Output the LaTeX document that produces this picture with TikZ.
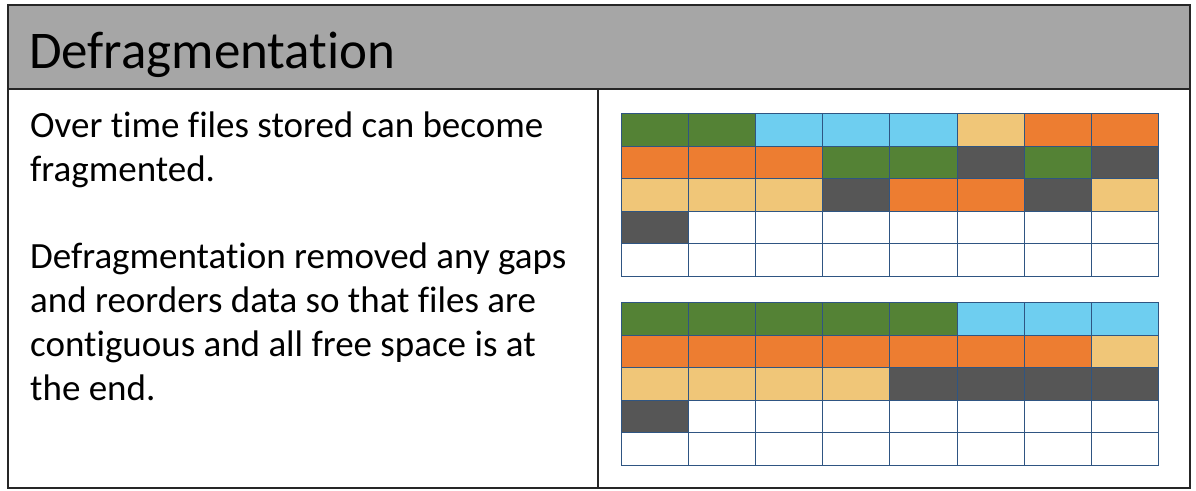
\documentclass[tikz,border=0pt]{standalone}
\usepackage{fontspec}
\setmainfont{Carlito}[Ligatures=NoCommon]
\definecolor{headgray}{RGB}{166,166,166}
\definecolor{gridblue}{RGB}{47,85,130}
\definecolor{cG}{RGB}{84,130,53}
\definecolor{cB}{RGB}{110,206,240}
\definecolor{cY}{RGB}{240,198,120}
\definecolor{cO}{RGB}{237,125,49}
\definecolor{cD}{RGB}{86,86,86}
\definecolor{cW}{RGB}{255,255,255}
\tikzset{
  frame/.style={draw=black!85, line width=2pt},
  cell/.style={draw=gridblue, line width=1pt, anchor=north west, inner sep=0pt,
    minimum width=67.1pt, minimum height=32.5pt},
  bodytext/.style={anchor=base west, inner sep=0pt, font=\fontsize{37}{44}\selectfont},
}

\begin{document}
\begin{tikzpicture}[x=1pt,y=-1pt]
  \useasboundingbox (0,0) rectangle (1196,490);
  \fill[white] (0,0) rectangle (1196,490);
  \fill[headgray] (8,5) rectangle (1190,89);
  \draw[frame] (8,5) rectangle (1190,488);
  \draw[frame] (8,89) -- (1190,89);
  \draw[frame] (598,89) -- (598,488);
  \node[anchor=base west, inner sep=0pt, font=\fontsize{53}{64}\selectfont] (title) at (29,68) {Defragmentation};
  % left column
  \node[bodytext] (l1) at (30,137) {Over time files stored can become};
  \node[bodytext] (l2) at (30,181) {fragmented.};
  \node[bodytext] (l3) at (30,268) {Defragmentation removed any gaps};
  \node[bodytext] (l4) at (30,312) {and reorders data so that files are};
  \node[bodytext] (l5) at (30,356) {contiguous and all free space is at};
  \node[bodytext] (l6) at (30,400) {the end.};
  % before
  \foreach \row [count=\r] in {{G,G,B,B,B,Y,O,O},{O,O,O,G,G,D,G,D},{Y,Y,Y,D,O,O,D,Y},{D,W,W,W,W,W,W,W},{W,W,W,W,W,W,W,W}} {
    \foreach \c [count=\k] in \row {
      \node[cell, fill=c\c] (before-\r-\k) at ({621+(\k-1)*67.1},{113+(\r-1)*32.5}) {};
    }
  }
  % after
  \foreach \row [count=\r] in {{G,G,G,G,G,B,B,B},{O,O,O,O,O,O,O,Y},{Y,Y,Y,Y,D,D,D,D},{D,W,W,W,W,W,W,W},{W,W,W,W,W,W,W,W}} {
    \foreach \c [count=\k] in \row {
      \node[cell, fill=c\c] (after-\r-\k) at ({621+(\k-1)*67.1},{302+(\r-1)*32.5}) {};
    }
  }
\end{tikzpicture}
\end{document}
